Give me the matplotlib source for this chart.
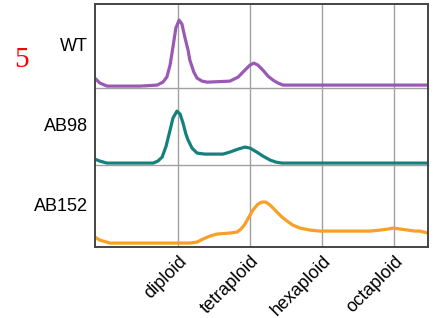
import matplotlib.pyplot as plt

# x in ploidy units (diploid = 2), y as fraction of each panel's height
samples = ["WT", "AB98", "AB152"]
colors = ["#9b59b6", "#15807d", "#f99f26"]
tick_pos = [2, 4, 6, 8]
tick_labels = ["diploid", "tetraploid", "hexaploid", "octaploid"]

wt_x = [-0.31, -0.17, 0.03, 0.94, 1.42, 1.58, 1.69, 1.78, 1.86, 1.94, 2.03, 2.11,
        2.19, 2.28, 2.33, 2.44, 2.53, 2.67, 2.81, 3.44, 3.67, 3.83, 4.0, 4.11,
        4.22, 4.36, 4.5, 4.64, 4.78, 4.92, 8.94]
wt_y = [0.119, 0.06, 0.024, 0.024, 0.036, 0.071, 0.131, 0.274, 0.488, 0.714, 0.81,
        0.762, 0.607, 0.452, 0.333, 0.19, 0.119, 0.083, 0.071, 0.083, 0.131, 0.202,
        0.274, 0.298, 0.274, 0.214, 0.143, 0.095, 0.06, 0.036, 0.036]

ab98_x = [-0.31, -0.17, 0.03, 1.31, 1.44, 1.56, 1.67, 1.78, 1.86, 1.97, 2.06, 2.14,
          2.22, 2.28, 2.39, 2.53, 2.75, 3.25, 3.44, 3.67, 3.86, 4.0, 4.19, 4.36,
          4.56, 4.72, 4.89, 8.94]
ab98_y = [0.078, 0.052, 0.026, 0.026, 0.052, 0.104, 0.247, 0.455, 0.61, 0.701, 0.662,
          0.545, 0.403, 0.325, 0.221, 0.156, 0.143, 0.143, 0.169, 0.208, 0.234, 0.221,
          0.169, 0.117, 0.065, 0.039, 0.026, 0.026]

ab152_x = [-0.31, -0.17, 0.11, 2.33, 2.53, 2.69, 2.89, 3.08, 3.44, 3.64, 3.75, 3.86,
           3.97, 4.08, 4.22, 4.33, 4.44, 4.56, 4.67, 4.75, 4.89, 5.03, 5.19, 5.39,
           5.67, 5.94, 7.33, 7.61, 7.83, 8.0, 8.17, 8.39, 8.58, 8.72, 8.94]
ab152_y = [0.122, 0.085, 0.049, 0.049, 0.061, 0.098, 0.134, 0.159, 0.171, 0.183, 0.22,
           0.28, 0.366, 0.451, 0.524, 0.549, 0.549, 0.512, 0.463, 0.427, 0.366, 0.317,
           0.268, 0.232, 0.207, 0.195, 0.195, 0.207, 0.22, 0.232, 0.22, 0.207, 0.195,
           0.195, 0.171]

series = [(wt_x, wt_y), (ab98_x, ab98_y), (ab152_x, ab152_y)]

plt.rcParams['font.family'] = ['Liberation Sans', 'DejaVu Sans']

fig = plt.figure(figsize=(4.37, 3.18), dpi=100)
gs = fig.add_gridspec(3, 1, height_ratios=[84, 77, 82], hspace=0,
                      left=0.217, right=0.979, top=0.987, bottom=0.223)

frame = "#444444"
grid = "#a0a0a0"

for i, (name, col, (xs, ys)) in enumerate(zip(samples, colors, series)):
    ax = fig.add_subplot(gs[i])
    ax.patch.set_visible(False)
    ax.plot(xs, ys, color=col, lw=2.3, solid_capstyle='round', solid_joinstyle='round')
    ax.set_xlim(-0.31, 8.94)
    ax.set_ylim(0, 1)
    ax.set_yticks([])
    ax.set_xticks(tick_pos)
    ax.grid(axis='x', color=grid, lw=1)
    ax.set_axisbelow(True)
    ax.tick_params(axis='x', length=0)
    ax.set_ylabel(name, rotation=0, ha='right', va='center', fontsize=13, labelpad=5)
    for s in ['left', 'right']:
        ax.spines[s].set_color(frame)
        ax.spines[s].set_linewidth(1.4)
    if i == 0:
        ax.spines['top'].set_color(frame)
        ax.spines['top'].set_linewidth(1.4)
    else:
        ax.spines['top'].set_visible(False)
    if i == 2:
        ax.spines['bottom'].set_color(frame)
        ax.spines['bottom'].set_linewidth(1.4)
        ax.set_xticklabels(tick_labels, rotation=45, ha='right',
                           rotation_mode='anchor', fontsize=13)
        ax.tick_params(axis='x', pad=4)
    else:
        ax.spines['bottom'].set_color(grid)
        ax.spines['bottom'].set_linewidth(1)
        ax.set_xticklabels([])

fig.text(0.05, 0.81, "5", color="red", fontsize=21, family=['Liberation Serif'],
         ha='center', va='center')

fig.savefig("out.png", dpi=100)
